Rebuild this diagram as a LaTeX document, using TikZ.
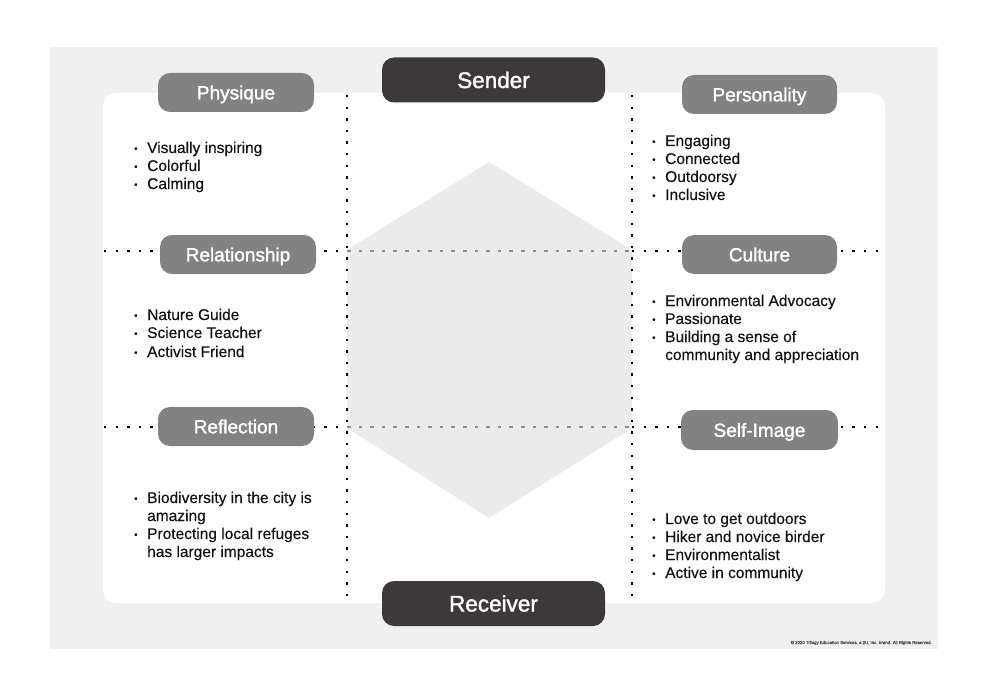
\documentclass[tikz,border=0pt]{standalone}
\usepackage{fontspec}
\setmainfont[FakeBold=0.25]{Liberation Sans}
\newfontfamily\lblfont[FakeBold=1.6]{Liberation Sans}
\definecolor{bggray}{HTML}{F0F0F0}
\definecolor{hexgray}{HTML}{EBEBEB}
\definecolor{lblgray}{HTML}{828282}
\definecolor{darkbox}{HTML}{3E3939}
\definecolor{dashgray}{HTML}{8F8F8F}
\definecolor{txt}{HTML}{111111}
\newcommand\bu{\makebox[13pt][l]{\raisebox{1.2pt}{\fontsize{9.5}{9.5}\selectfont •}}}
\begin{document}
\begin{tikzpicture}[x=1pt,y=-1pt,
  dotline/.style={line width=2.6pt, dash pattern=on 2.4pt off 9.2pt, black},
  grayline/.style={line width=2.4pt, dash pattern=on 3.6pt off 8pt, dashgray},
  lbl/.style={rounded corners=12pt, fill=lblgray, text=white, inner sep=0pt,
    font=\lblfont\fontsize{19}{19}\selectfont, minimum width=156pt, minimum height=39pt,
    text height=13.6pt, text depth=0pt},
  mainlbl/.style={lbl, fill=darkbox, minimum width=223pt, minimum height=45pt,
    font=\lblfont\fontsize{22.5}{22.5}\selectfont, text height=16pt},
  itm/.style={anchor=base west, inner sep=0pt, text=txt, font=\fontsize{15.5}{18}\selectfont},
  copy/.style={anchor=base east, inner sep=0pt, text=black!70, font=\fontsize{4.3}{5}\selectfont}]
\useasboundingbox (0,0) rectangle (988,698);
\fill[white] (0,0) rectangle (988,698);
% background panels
\fill[bggray] (50,47) rectangle (938,649);
\fill[white, rounded corners=13pt] (103,93) rectangle (885,603);
% hexagon
\fill[hexgray] (489,162) -- (632,250) -- (632,428) -- (489,518) -- (347,428) -- (347,250) -- cycle;
% coordinates for guide lines
\coordinate (vlt) at (347,95);  \coordinate (vlb) at (347,604);
\coordinate (vrt) at (632,95);  \coordinate (vrb) at (632,604);
\coordinate (h1a) at (104,251); \coordinate (h1b) at (347,251);
\coordinate (h1c) at (632,251); \coordinate (h1d) at (885,251);
\coordinate (h2a) at (104,427); \coordinate (h2b) at (347,427);
\coordinate (h2c) at (632,427); \coordinate (h2d) at (885,427);
% guide lines
\draw[dotline] (vlt) -- (vlb);
\draw[dotline] (vrt) -- (vrb);
\draw[dotline] (h1a) -- (h1b);
\draw[grayline] (h1b) -- (h1c);
\draw[dotline] (h1c) -- (h1d);
\draw[dotline] (h2a) -- (h2b);
\draw[grayline] (h2b) -- (h2c);
\draw[dotline] (h2c) -- (h2d);
% labels
\node[mainlbl] (sender) at (493.5,80) {Sender};
\node[mainlbl] (receiver) at (493.5,603.5) {Receiver};
\node[lbl] (physique) at (236,92.5) {Physique};
\node[lbl] (relationship) at (238,254.5) {Relationship};
\node[lbl] (reflection) at (236,426.5) {Reflection};
\node[lbl, minimum width=155pt] (personality) at (759.5,94.5) {Personality};
\node[lbl, minimum width=155pt] (culture) at (759.5,254.5) {Culture};
\node[lbl, minimum width=157pt, minimum height=40pt] (selfimage) at (759.5,430) {Self-Image};
% lists left
\node[itm] (p1) at (134,153) {\bu Visually inspiring};
\node[itm] (p2) at (134,171) {\bu Colorful};
\node[itm] (p3) at (134,189) {\bu Calming};
\node[itm] (r1) at (134,320) {\bu Nature Guide};
\node[itm] (r2) at (134,338) {\bu Science Teacher};
\node[itm] (r3) at (134,357) {\bu Activist Friend};
\node[itm] (f1) at (134,503) {\bu Biodiversity in the city is};
\node[itm] (f2) at (147,521) {amazing};
\node[itm] (f3) at (134,539) {\bu Protecting local refuges};
\node[itm] (f4) at (147,557) {has larger impacts};
% lists right
\node[itm] (q1) at (652,146) {\bu Engaging};
\node[itm] (q2) at (652,164) {\bu Connected};
\node[itm] (q3) at (652,182) {\bu Outdoorsy};
\node[itm] (q4) at (652,200) {\bu Inclusive};
\node[itm] (c1) at (652,306) {\bu Environmental Advocacy};
\node[itm] (c2) at (652,324) {\bu Passionate};
\node[itm] (c3) at (652,342) {\bu Building a sense of};
\node[itm] (c4) at (665,360) {community and appreciation};
\node[itm] (s1) at (652,524) {\bu Love to get outdoors};
\node[itm] (s2) at (652,542) {\bu Hiker and novice birder};
\node[itm] (s3) at (652,560) {\bu Environmentalist};
\node[itm] (s4) at (652,578) {\bu Active in community};
% copyright
\node[copy] (copyright) at (932,644) {© 2020 Trilogy Education Services, a 2U, Inc. brand. All Rights Reserved.};
\end{tikzpicture}
\end{document}
